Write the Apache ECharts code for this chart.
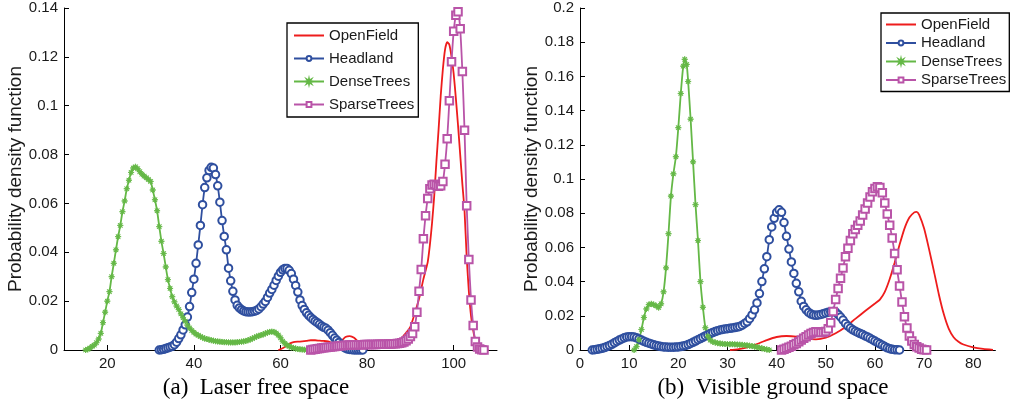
<!DOCTYPE html>
<html>
<head>
<meta charset="utf-8">
<script src="https://cdn.jsdelivr.net/npm/echarts@6/dist/echarts.min.js"></script>
<style>
html,body{margin:0;padding:0;background:#fff;}
#c{width:1013px;height:412px;}
</style>
</head>
<body>
<div id="c"></div>
<script>
// ---------- DATA ----------
const seriesNames = ['OpenField', 'Headland', 'DenseTrees', 'SparseTrees'];
const captions = ['(a)  Laser free space', '(b)  Visible ground space'];
const yAxisTitle = 'Probability density function';
const laserXTicks = [20, 40, 60, 80, 100];

// (a) Laser free space  [x, density]
const laserOpenField = [[59.5,0],[60,0.0003],[61,0.0012],[62,0.0025],[63,0.0032],[64,0.0034],[65,0.0035],[66,0.0037],[67,0.004],[68,0.004],[69,0.0038],[70,0.0037],[71,0.0035],[72,0.0028],[73,0.002],[74,0.0035],[75,0.0053],[76,0.0057],[77,0.005],[78,0.0033],[79,0.0025],[80,0.0025],[81,0.0028],[82,0.0032],[83,0.0034],[84,0.003],[85,0.0028],[86,0.003],[87,0.0037],[88,0.005],[89,0.007],[90,0.0095],[91,0.015],[92,0.021],[93,0.029],[94,0.036],[94.5,0.043],[95,0.052],[95.5,0.063],[96,0.077],[96.5,0.09],[97,0.104],[97.5,0.115],[98,0.123],[98.5,0.126],[99,0.125],[99.5,0.12],[100,0.113],[100.5,0.103],[101,0.092],[101.5,0.08],[102,0.068],[102.5,0.057],[103,0.038],[103.5,0.024],[104,0.014],[104.5,0.008],[105,0.004],[106,0.0015],[107,0.0004],[108,0]];
const laserHeadland = [[32,0],[32.5,0.0001],[33,0.0003],[33.5,0.0006],[34,0.0009],[34.5,0.0012],[35,0.0015],[35.5,0.0022],[36,0.0032],[36.5,0.0047],[37,0.0062],[37.5,0.0082],[38,0.0103],[38.5,0.0135],[39,0.0178],[39.5,0.0235],[40,0.029],[40.5,0.0355],[41,0.043],[41.5,0.051],[42,0.0595],[42.5,0.0665],[43,0.0705],[43.5,0.0735],[44,0.0748],[44.5,0.0745],[45,0.0718],[45.5,0.0672],[46,0.0605],[46.5,0.053],[47,0.0465],[47.5,0.041],[48,0.0335],[48.5,0.0283],[49,0.024],[49.5,0.0205],[50,0.0183],[50.5,0.0172],[51,0.0165],[51.5,0.016],[52,0.0157],[52.5,0.0156],[53,0.0156],[53.5,0.0157],[54,0.0159],[54.5,0.0162],[55,0.0168],[55.5,0.0177],[56,0.0188],[56.5,0.0199],[57,0.0215],[57.5,0.0233],[58,0.0248],[58.5,0.0265],[59,0.0285],[59.5,0.0302],[60,0.0318],[60.5,0.0328],[61,0.0334],[61.5,0.0334],[62,0.0326],[62.5,0.0313],[63,0.029],[63.5,0.0264],[64,0.0237],[64.5,0.0205],[65,0.0182],[65.5,0.0166],[66,0.0152],[66.5,0.0142],[67,0.0133],[67.5,0.0125],[68,0.0118],[68.5,0.0112],[69,0.0105],[69.5,0.0098],[70,0.0093],[70.5,0.0089],[71,0.0081],[71.5,0.0071],[72,0.006],[72.5,0.0049],[73,0.004],[73.5,0.0031],[74,0.0021],[74.5,0.0013],[75,0.0008],[75.5,0.0004],[76,0.0002],[76.5,0.0001],[77,0],[77.5,0],[78,0],[78.5,0],[79,0]];
const laserDenseTrees = [[15,0],[15.5,0.0003],[16,0.0008],[16.5,0.0015],[17,0.002],[17.5,0.003],[18,0.0045],[18.5,0.0068],[19,0.0112],[19.5,0.0155],[20,0.02],[20.5,0.0239],[21,0.03],[21.5,0.0355],[22,0.041],[22.5,0.0464],[23,0.051],[23.5,0.0566],[24,0.061],[24.5,0.066],[25,0.0695],[25.5,0.0727],[26,0.0745],[26.5,0.075],[27,0.0742],[27.5,0.073],[28,0.072],[28.5,0.0712],[29,0.0705],[29.5,0.0698],[30,0.069],[30.5,0.0655],[31,0.0615],[31.5,0.057],[32,0.0505],[32.5,0.0445],[33,0.0395],[33.5,0.034],[34,0.0288],[34.5,0.0252],[35,0.0218],[35.5,0.0197],[36,0.018],[36.5,0.0166],[37,0.0148],[37.5,0.0132],[38,0.0118],[38.5,0.0102],[39,0.009],[39.5,0.008],[40,0.0072],[40.5,0.0065],[41,0.006],[41.5,0.0055],[42,0.0051],[42.5,0.0047],[43,0.0045],[43.5,0.0042],[44,0.004],[44.5,0.0038],[45,0.0036],[45.5,0.0035],[46,0.0034],[46.5,0.0033],[47,0.0032],[47.5,0.0032],[48,0.0031],[48.5,0.0031],[49,0.0031],[49.5,0.0031],[50,0.0032],[50.5,0.0033],[51,0.0034],[51.5,0.0035],[52,0.0037],[52.5,0.004],[53,0.0043],[53.5,0.0047],[54,0.0051],[54.5,0.0055],[55,0.0058],[55.5,0.0061],[56,0.0064],[56.5,0.0068],[57,0.0071],[57.5,0.0074],[58,0.0075],[58.5,0.0074],[59,0.0069],[59.5,0.0061],[60,0.005],[60.5,0.0036],[61,0.0027],[61.5,0.002],[62,0.0015],[62.5,0.0011],[63,0.0008],[63.5,0.0006],[64,0.0004],[64.5,0.0003],[65,0.0002],[65.5,0.0001],[66,0.0001],[66.5,0]];
const laserSparseTrees = [[67,0],[67.5,0.0002],[68,0.0003],[68.5,0.0005],[69,0.0006],[69.5,0.0008],[70,0.0009],[70.5,0.001],[71,0.0011],[71.5,0.0012],[72,0.0013],[72.5,0.0014],[73,0.0015],[73.5,0.0016],[74,0.0017],[74.5,0.0018],[75,0.0019],[75.5,0.0019],[76,0.002],[76.5,0.002],[77,0.0021],[77.5,0.0021],[78,0.0022],[78.5,0.0022],[79,0.0022],[79.5,0.0023],[80,0.0023],[80.5,0.0023],[81,0.0023],[81.5,0.0023],[82,0.0023],[82.5,0.0024],[83,0.0024],[83.5,0.0024],[84,0.0024],[84.5,0.0024],[85,0.0025],[85.5,0.0025],[86,0.0026],[86.5,0.0026],[87,0.0027],[87.5,0.0028],[88,0.003],[88.5,0.0033],[89,0.0038],[89.5,0.0045],[90,0.0055],[90.5,0.0068],[91,0.0095],[91.5,0.0155],[92,0.024],[92.5,0.033],[93,0.0455],[93.5,0.055],[94,0.062],[94.5,0.066],[95,0.0675],[95.5,0.0678],[96,0.0675],[96.5,0.067],[97,0.0672],[97.5,0.069],[98,0.076],[98.5,0.0865],[99,0.102],[99.5,0.118],[100,0.1305],[100.5,0.137],[101,0.1385],[101.5,0.1315],[102,0.114],[102.5,0.09],[103,0.059],[103.5,0.037],[104,0.0205],[104.5,0.01],[105,0.0035],[105.5,0.0012],[106,0.0004],[106.5,0.0001],[107,0]];

// (b) Visible ground space  [x, density]
const groundOpenField = [[30.5,0],[32,0.0004],[34,0.0015],[36,0.0035],[38,0.0058],[40,0.0076],[42,0.0082],[44,0.0078],[46,0.0066],[48,0.0062],[50,0.0072],[52,0.0098],[54,0.0135],[56,0.0182],[58,0.0228],[60,0.0272],[61,0.0295],[62,0.034],[63,0.0415],[64,0.051],[65,0.0615],[66,0.071],[67,0.0775],[68,0.0805],[68.5,0.0808],[69,0.079],[70,0.071],[71,0.059],[72,0.046],[73,0.0325],[74,0.021],[75,0.0125],[76,0.0075],[77,0.0048],[78,0.0032],[80,0.0015],[82,0.0006],[84,0.0001]];
const groundHeadland = [[2.5,0],[3,0.0002],[3.5,0.0004],[4,0.0007],[4.5,0.001],[5,0.0014],[5.5,0.002],[6,0.0026],[6.5,0.0033],[7,0.0042],[7.5,0.005],[8,0.0058],[8.5,0.0065],[9,0.0071],[9.5,0.0076],[10,0.0078],[10.5,0.0078],[11,0.0076],[11.5,0.0071],[12,0.0065],[12.5,0.0058],[13,0.0051],[13.5,0.0045],[14,0.004],[14.5,0.0035],[15,0.003],[15.5,0.0026],[16,0.0023],[16.5,0.002],[17,0.0018],[17.5,0.0017],[18,0.0016],[18.5,0.0016],[19,0.0016],[19.5,0.0017],[20,0.0018],[20.5,0.002],[21,0.0023],[21.5,0.0027],[22,0.0032],[22.5,0.0038],[23,0.0045],[23.5,0.0052],[24,0.006],[24.5,0.0067],[25,0.0074],[25.5,0.0082],[26,0.0089],[26.5,0.0096],[27,0.0102],[27.5,0.0108],[28,0.0113],[28.5,0.0117],[29,0.012],[29.5,0.0123],[30,0.0125],[30.5,0.0127],[31,0.0129],[31.5,0.0131],[32,0.0134],[32.5,0.0138],[33,0.0145],[33.5,0.0155],[34,0.0165],[34.5,0.0183],[35,0.0205],[35.5,0.0235],[36,0.0275],[36.5,0.033],[37,0.04],[37.5,0.0475],[38,0.0546],[38.5,0.0645],[39,0.072],[39.5,0.077],[40,0.0805],[40.5,0.082],[41,0.0805],[41.5,0.0745],[42,0.0665],[42.5,0.059],[43,0.0515],[43.5,0.0448],[44,0.039],[44.5,0.034],[45,0.0285],[45.5,0.0255],[46,0.0235],[46.5,0.022],[47,0.021],[47.5,0.0205],[48,0.0203],[48.5,0.0205],[49,0.0208],[49.5,0.0212],[50,0.0217],[50.5,0.0221],[51,0.0224],[51.5,0.0225],[52,0.0222],[52.5,0.0208],[53,0.0193],[53.5,0.0175],[54,0.0155],[54.5,0.014],[55,0.0128],[55.5,0.0118],[56,0.011],[56.5,0.0103],[57,0.0096],[57.5,0.009],[58,0.0082],[58.5,0.0076],[59,0.0068],[59.5,0.006],[60,0.0052],[60.5,0.0044],[61,0.0036],[61.5,0.0028],[62,0.002],[62.5,0.0013],[63,0.0008],[63.5,0.0004],[64,0.0002],[64.5,0.0001],[65,0]];
const groundDenseTrees = [[11,0],[11.5,0.002],[12,0.006],[12.5,0.012],[13,0.019],[13.5,0.024],[14,0.0265],[14.5,0.027],[15,0.0265],[15.5,0.0258],[16,0.0248],[16.5,0.027],[17,0.034],[17.5,0.048],[18,0.068],[18.5,0.09],[19,0.103],[19.5,0.113],[20,0.13],[20.5,0.15],[21,0.166],[21.3,0.17],[21.7,0.167],[22,0.157],[22.5,0.135],[23,0.11],[23.5,0.085],[24,0.064],[24.5,0.04],[25,0.025],[25.5,0.013],[26,0.008],[26.5,0.0058],[27,0.0048],[27.5,0.0044],[28,0.004],[28.5,0.0038],[29,0.0036],[29.5,0.0035],[30,0.0034],[30.5,0.0034],[31,0.0034],[31.5,0.0033],[32,0.0032],[32.5,0.0031],[33,0.003],[33.5,0.0029],[34,0.0027],[34.5,0.0025],[35,0.0023],[35.5,0.002],[36,0.0017],[36.5,0.0013],[37,0.001],[37.5,0.0006],[38,0.0003],[38.5,0]];
const groundSparseTrees = [[41,0],[41.5,0.0004],[42,0.001],[42.5,0.0016],[43,0.0022],[43.5,0.003],[44,0.0038],[44.5,0.0048],[45,0.0058],[45.5,0.0068],[46,0.0078],[46.5,0.0088],[47,0.0097],[47.5,0.0103],[48,0.0106],[48.5,0.0106],[49,0.0103],[49.5,0.0102],[50,0.0108],[50.5,0.0125],[51,0.016],[51.5,0.0225],[52,0.0295],[52.5,0.036],[53,0.042],[53.5,0.048],[54,0.0545],[54.5,0.0595],[55,0.064],[55.5,0.068],[56,0.0705],[56.5,0.073],[57,0.0755],[57.5,0.079],[58,0.0825],[58.5,0.086],[59,0.0895],[59.5,0.0925],[60,0.0945],[60.5,0.0955],[61,0.095],[61.5,0.092],[62,0.086],[62.5,0.0795],[63,0.073],[63.5,0.0655],[64,0.0565],[64.5,0.047],[65,0.0375],[65.5,0.028],[66,0.0195],[66.5,0.0128],[67,0.0082],[67.5,0.0052],[68,0.0032],[68.5,0.0019],[69,0.0011],[69.5,0.0005],[70,0.0002],[70.5,0]];

// ---------- STYLE ----------
const colors = { OpenField: '#ee1c1c', Headland: '#2f4f9f', DenseTrees: '#64b846', SparseTrees: '#b954a8' };
const starPath = 'path://M10,5L6.8,5.75L8.54,8.54L5.75,6.8L5,10L4.25,6.8L1.46,8.54L3.2,5.75L0,5L3.2,4.25L1.46,1.46L4.25,3.2L5,0L5.75,3.2L8.54,1.46L6.8,4.25Z';
const lineOnlyIcon = 'path://M0,0L30,0Z M0,2.1L30,2.1L30,3.9L0,3.9Z M0,6L30,6Z';
const symbols = {
  OpenField: { symbol: 'none', symbolSize: 0 },
  Headland: { symbol: 'emptyCircle', symbolSize: 7.5 },
  DenseTrees: { symbol: starPath, symbolSize: 6 },
  SparseTrees: { symbol: 'emptyRect', symbolSize: 7.5 }
};
const FONT = '"Liberation Sans", Arial, sans-serif';
const TXT = '#1a1a1a';

function makeSeries(name, data, idx) {
  const s = symbols[name];
  return {
    name: name,
    type: 'line',
    xAxisIndex: idx,
    yAxisIndex: idx,
    data: data,
    smooth: 0.2,
    symbol: s.symbol,
    symbolSize: s.symbolSize,
    showSymbol: s.symbol !== 'none',
    showAllSymbol: true,
    lineStyle: { color: colors[name], width: 1.8 },
    itemStyle: { color: colors[name], borderColor: colors[name], borderWidth: name === 'DenseTrees' ? 0.8 : 1.9 },
    emphasis: { disabled: true },
    animation: false
  };
}

function axisCommon() {
  return {
    axisLine: { show: true, onZero: false, lineStyle: { color: '#000', width: 1 } },
    axisTick: { show: true, inside: true, length: 5, lineStyle: { color: '#000' } },
    axisLabel: { color: TXT, fontFamily: FONT, fontSize: 15, margin: 6 },
    splitLine: { show: false }
  };
}

const chart = echarts.init(document.getElementById('c'), null, { renderer: 'canvas' });

const xA0 = Object.assign(axisCommon(), { type: 'value', gridIndex: 0, min: 10, max: 110 });
xA0.axisLabel = Object.assign({}, xA0.axisLabel, { customValues: laserXTicks });
xA0.axisTick = Object.assign({}, xA0.axisTick, { customValues: laserXTicks });
const xA1 = Object.assign(axisCommon(), { type: 'value', gridIndex: 1, min: 0, max: 84.5, interval: 10 });

const yName = {
  name: yAxisTitle, nameLocation: 'middle', nameGap: 30, nameRotate: 90,
  nameTextStyle: { color: TXT, fontFamily: FONT, fontSize: 19 }
};
const yA0 = Object.assign(axisCommon(), yName, { type: 'value', gridIndex: 0, min: 0, max: 0.14, interval: 0.02 });
const yA1 = Object.assign(axisCommon(), yName, { type: 'value', gridIndex: 1, min: 0, max: 0.2, interval: 0.02 });

const legendData = seriesNames.map(n => n === 'OpenField'
  ? { name: n, icon: lineOnlyIcon, itemStyle: { color: colors[n], borderWidth: 0 } }
  : { name: n });

const legendBase = {
  orient: 'vertical',
  backgroundColor: '#fff',
  borderColor: '#000',
  borderWidth: 1.3,
  borderRadius: 0,
  itemWidth: 30,
  itemHeight: 6,
  symbolKeepAspect: false,
  selectedMode: false,
  align: 'left',
  textStyle: { color: TXT, fontFamily: FONT, fontSize: 15 },
  data: legendData
};

const option = {
  animation: false,
  backgroundColor: '#fff',
  grid: [
    { left: 64, top: 8, width: 433, height: 342, containLabel: false },
    { left: 580, top: 8, width: 432, height: 342, containLabel: false }
  ],
  xAxis: [xA0, xA1],
  yAxis: [yA0, yA1],
  legend: [
    Object.assign({}, legendBase, { left: 287, top: 23, padding: [5, 4, 5, 6], itemGap: 8 }),
    Object.assign({}, legendBase, { left: 881, top: 13, padding: [4, 3, 4, 4], itemGap: 3.5 })
  ],
  series: [
    makeSeries('OpenField', laserOpenField, 0),
    makeSeries('Headland', laserHeadland, 0),
    makeSeries('DenseTrees', laserDenseTrees, 0),
    makeSeries('SparseTrees', laserSparseTrees, 0),
    makeSeries('OpenField', groundOpenField, 1),
    makeSeries('Headland', groundHeadland, 1),
    makeSeries('DenseTrees', groundDenseTrees, 1),
    makeSeries('SparseTrees', groundSparseTrees, 1)
  ],
  graphic: [
    { type: 'text', x: 256, y: 388, style: { text: captions[0], font: '23px "Liberation Serif", "Times New Roman", serif', fill: '#000', align: 'center', verticalAlign: 'middle' } },
    { type: 'text', x: 773, y: 388, style: { text: captions[1], font: '23px "Liberation Serif", "Times New Roman", serif', fill: '#000', align: 'center', verticalAlign: 'middle' } }
  ]
};
chart.setOption(option);
</script>
</body>
</html>
